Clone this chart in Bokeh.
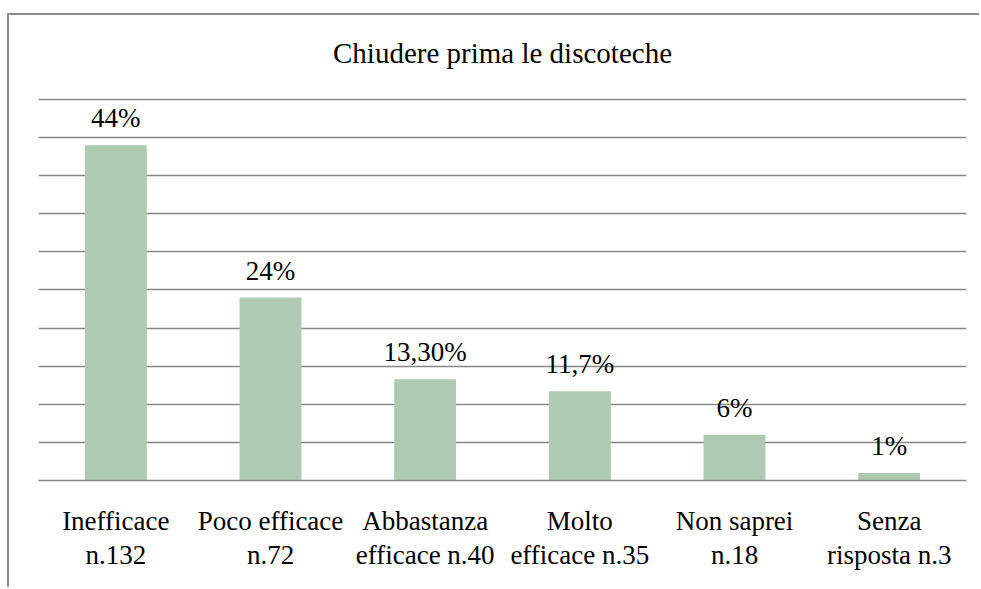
from bokeh.plotting import figure
from bokeh.models import ColumnDataSource, Range1d, FixedTicker, LabelSet
from bokeh.core.properties import value
from bokeh.embed import file_html
from bokeh.resources import INLINE

categories = ["Inefficace\nn.132", "Poco efficace\nn.72", "Abbastanza\nefficace n.40",
              "Molto\nefficace n.35", "Non saprei\nn.18", "Senza\nrisposta n.3"]
values = [44, 24, 13.3, 11.7, 6, 1]
bar_labels = ["44%", "24%", "13,30%", "11,7%", "6%", "1%"]
grid_ticks = [0, 5, 10, 15, 20, 25, 30, 35, 40, 45, 50]
title_text = "Chiudere prima le discoteche"

FONT = "Liberation Serif"
GRAY = "#878787"

src = ColumnDataSource(dict(x=categories, top=values, lab=bar_labels))

p = figure(width=972, height=574, x_range=categories, y_range=Range1d(0, 51.7),
           output_backend="svg", toolbar_location=None, title=title_text)
p.styles = {"border-left": "2px solid #8c8c8c", "border-top": "2px solid #8c8c8c",
            "margin-left": "7px", "margin-top": "13px"}
p.min_border = 0
p.min_border_left = 29
p.min_border_right = 15
p.min_border_top = 71
p.min_border_bottom = 109
p.outline_line_color = None
p.background_fill_color = "white"
p.border_fill_color = "white"

p.title.align = "center"
p.title.text_font = FONT
p.title.text_font_size = "29px"
p.title.text_font_style = "normal"
p.title.text_color = "#000000"
p.title.standoff = 35

p.vbar(x="x", top="top", width=0.4, source=src, color="#AECBB1", line_color=None)

labels = LabelSet(x="x", y="top", text="lab", source=src, text_align="center",
                  text_baseline="alphabetic", y_offset=18, text_font=value(FONT),
                  text_font_size="27px", text_color="#000000")
p.add_layout(labels)

p.yaxis.visible = False
p.ygrid.ticker = FixedTicker(ticks=grid_ticks)
p.ygrid.grid_line_color = GRAY
p.ygrid.grid_line_width = 1.3
p.xgrid.grid_line_color = None

ax = p.xaxis[0]
ax.axis_line_color = GRAY
ax.axis_line_width = 1.6
ax.major_tick_line_color = None
ax.minor_tick_line_color = None
ax.major_label_text_font = FONT
ax.major_label_text_font_size = "27px"
ax.major_label_text_color = "#000000"
ax.major_label_standoff = 19
ax.major_label_text_line_height = 1.15

open("out.html", "w").write(file_html(p, INLINE))
